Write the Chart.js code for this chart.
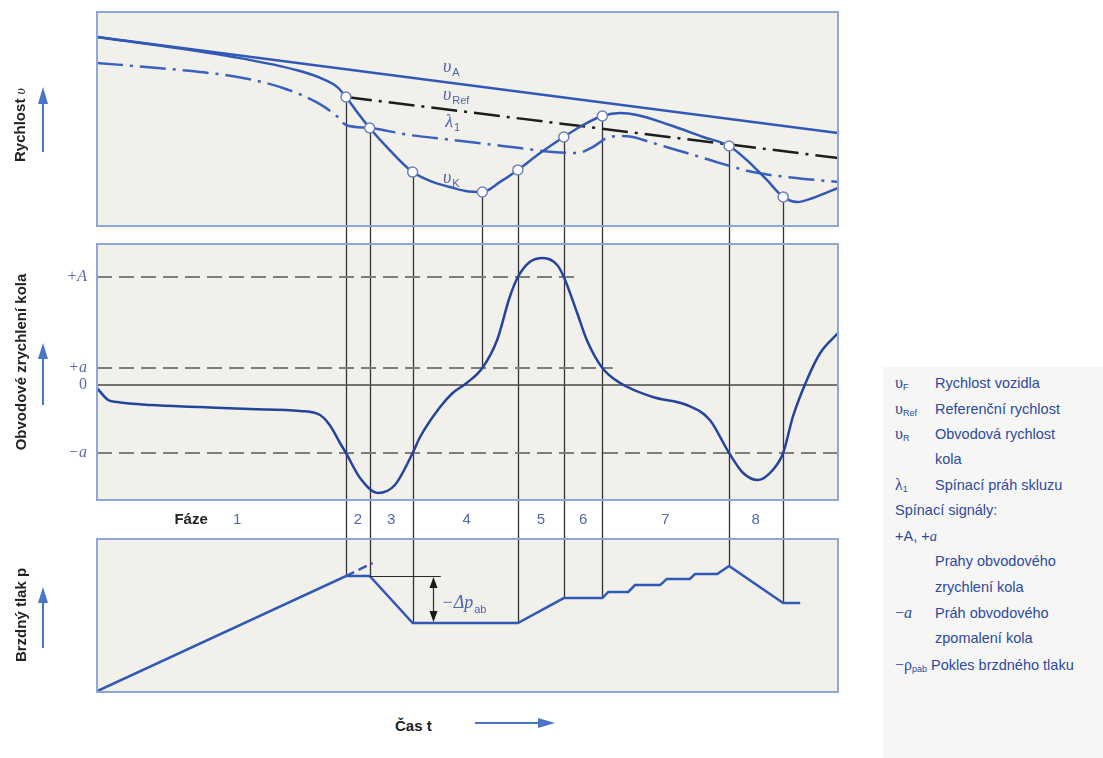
<!DOCTYPE html>
<html>
<head>
<meta charset="utf-8">
<script src="https://cdn.jsdelivr.net/npm/chart.js@4/dist/chart.umd.min.js"></script>
<style>
  html, body { margin: 0; padding: 0; background: #fff; }
  body { width: 1103px; height: 758px; position: relative; overflow: hidden; font-family: "Liberation Sans", Arial, sans-serif; }
  canvas { position: absolute; left: 0; }
  #c1 { top: 10px; }
  #c2 { top: 242px; }
  #c3 { top: 537px; }
  .ytitle { position: absolute; font-weight: bold; font-size: 15px; color: #222; white-space: nowrap; transform: translate(-50%, -50%) rotate(-90deg); }
  .ytitle i { font-family: "Liberation Serif", serif; font-weight: normal; font-size: 14px; }
  #time { position: absolute; left: 395px; top: 717px; font-weight: bold; font-size: 15px; color: #222; }
  #arrows { position: absolute; left: 0; top: 0; }
  #legend { position: absolute; left: 883px; top: 367px; width: 220px; height: 391px; background: #f6f6f4; box-sizing: border-box; padding: 3px 0 0 12px; color: #2d4a9c; font-size: 14.5px; }
  #legend .row { height: 25.6px; line-height: 25.6px; white-space: nowrap; }
  #legend .sym { display: inline-block; width: 40px; font-family: "Liberation Serif", serif; font-size: 16px; }
  #legend .sym sub { font-family: "Liberation Sans", Arial, sans-serif; font-size: 9px; vertical-align: -2px; }
  #legend .sym.wide { width: auto; margin-right: 4px; }
  #legend i { font-family: "Liberation Serif", serif; }
</style>
</head>
<body>
<canvas id="c1" width="860" height="234"></canvas>
<canvas id="c2" width="860" height="297"></canvas>
<canvas id="c3" width="860" height="158"></canvas>

<div class="ytitle" style="left:20px; top:125px;">Rychlost <i>υ</i></div>
<div class="ytitle" style="left:20px; top:362px;">Obvodové zrychlení kola</div>
<div class="ytitle" style="left:20px; top:615px;">Brzdný tlak p</div>
<div id="time">Čas t</div>

<svg id="arrows" width="1103" height="758">
  <g stroke="#4a74c4" stroke-width="2" fill="#4a74c4">
    <line x1="43" y1="152" x2="43" y2="100" />
    <polygon stroke="none" points="43,87 38,104 48,104" />
    <line x1="43" y1="405" x2="43" y2="356" />
    <polygon stroke="none" points="43,343 38,359 48,359" />
    <line x1="43" y1="648" x2="43" y2="600" />
    <polygon stroke="none" points="43,587 38,603 48,603" />
    <line x1="475" y1="723" x2="541" y2="723" />
    <polygon stroke="none" points="555,723 538,718 538,728" />
  </g>
</svg>

<div id="legend">
  <div class="row"><span class="sym">υ<sub>F</sub></span>Rychlost vozidla</div>
  <div class="row"><span class="sym">υ<sub>Ref</sub></span>Referenční rychlost</div>
  <div class="row"><span class="sym">υ<sub>R</sub></span>Obvodová rychlost</div>
  <div class="row"><span class="sym"></span>kola</div>
  <div class="row"><span class="sym">λ<sub>1</sub></span>Spínací práh skluzu</div>
  <div class="row">Spínací signály:</div>
  <div class="row">+A, +<i>a</i></div>
  <div class="row"><span class="sym"></span>Prahy obvodového</div>
  <div class="row"><span class="sym"></span>zrychlení kola</div>
  <div class="row"><span class="sym">−<i>a</i></span>Práh obvodového</div>
  <div class="row"><span class="sym"></span>zpomalení kola</div>
  <div class="row"><span class="sym wide">−ρ<sub>pab</sub></span>Pokles brzdného tlaku</div>
</div>

<script>
// time runs 0..100 across the panels
const cueTimes = [33.6, 36.8, 42.6, 52.0, 56.8, 63.0, 68.2, 85.3, 92.6];
const cueEndsIn = ['p', 'p', 'p', 'a', 'p', 'p', 'p', 'p', 'p'];

const phaseNames = ['1', '2', '3', '4', '5', '6', '7', '8'];
const phaseLabelTimes = [18.9, 35.2, 39.7, 49.9, 59.9, 65.6, 76.7, 88.9];

// speed panel
const vATime = [0, 100];
const vAValues = [88.3, 43.5];
const vRefTime = [33.6, 100];
const vRefValues = [60.3, 31.8];
const lambdaTime = [0, 8.2, 13.9, 19.7, 25.1, 29.8, 32.5, 33.6, 36.8, 42.2, 48.0, 52.6, 57.1, 61.5, 64.8, 66.9, 68.8, 70.6, 72.3, 75.0, 79.6, 84.1, 88.5, 93.1, 100];
const lambdaValues = [76.2, 73.8, 72.0, 69.2, 64.5, 57.5, 50.9, 47.2, 45.8, 42.5, 40.2, 38.3, 36.4, 34.6, 34.1, 36.9, 41.1, 42.1, 41.6, 38.8, 34.1, 29.4, 25.2, 22.9, 20.6];
const vKTime = [0, 18.4, 27.4, 30.8, 32.4, 33.6, 35.2, 36.8, 39.5, 42.6, 45.3, 47.6, 49.7, 52.0, 54.4, 56.8, 59.8, 63.0, 65.6, 68.2, 70.6, 72.9, 77.3, 81.8, 85.3, 87.7, 90.4, 92.6, 94.5, 96.6, 100];
const vKValues = [88.3, 79.0, 72.4, 68.2, 65.0, 60.3, 52.8, 45.8, 35.5, 25.2, 20.6, 18.2, 16.4, 15.9, 20.6, 26.2, 34.1, 41.6, 47.2, 51.4, 52.8, 51.9, 47.2, 41.6, 37.4, 30.8, 21.5, 13.6, 11.2, 13.1, 17.8];
const speedLabelMain = ['υ', 'υ', 'λ', 'υ'];
const speedLabelSub = ['A', 'Ref', '1', 'K'];
const speedLabelTime = [46.7, 46.7, 47.0, 46.7];
const speedLabelValue = [74.3, 61.2, 48.6, 22.4];

// wheel acceleration panel
const accTime = [0, 1.5, 2.7, 7.2, 13.9, 20.6, 27.4, 30.1, 31.4, 32.8, 33.6, 35.5, 37.9, 40.2, 42.6, 43.6, 46.3, 48.0, 49.9, 52.0, 54.0, 55.7, 56.8, 58.4, 60.2, 62.1, 63.0, 64.8, 66.1, 68.2, 70.6, 75.0, 79.6, 82.7, 85.3, 87.2, 89.2, 91.2, 92.6, 93.9, 95.8, 97.6, 100];
const accValues = [-0.3, -1.5, -1.7, -2.0, -2.2, -2.4, -2.6, -3.0, -4.0, -5.8, -6.8, -9.3, -10.8, -10.0, -6.8, -5.2, -2.2, -0.8, 0.2, 1.7, 4.5, 8.8, 10.8, 12.3, 12.7, 12.0, 10.8, 7.2, 4.5, 1.7, 0.2, -1.2, -2.0, -3.5, -6.8, -8.8, -9.5, -8.5, -6.8, -3.2, 0.5, 3.2, 5.2];
const accTickLabels = ['+A', '+a', '0', '−a'];
const accTickValues = [10.8, 1.7, 0, -6.8];
const thresholdEnds = [64.5, 69.6, 100, 100];

// brake pressure panel
const pTime = [0, 33.6, 36.8, 42.6, 56.8, 63.0, 68.2, 69.0, 71.7, 72.6, 76.0, 76.9, 80.0, 80.7, 83.7, 85.3, 92.6, 94.9];
const pValues = [0.5, 75.8, 75.8, 45.1, 45.1, 61.4, 61.4, 65.4, 65.4, 69.9, 69.9, 73.9, 73.9, 77.1, 77.1, 82.4, 58.2, 58.2];
const pExtTime = [33.6, 37.2];
const pExtValues = [75.8, 84.3];
const dropArrowTime = 45.3;
const dropLineEnd = 46.4;

const BLUE = '#3058b4';
const DARK_BLUE = '#24449c';
const LABEL_BLUE = '#4d64ad';
const PANEL_BG = '#f1f0eb';
const PANEL_EDGE = '#8ea7d6';
const CUE_COLOR = '#333333';
const DASH_DOT = [26, 7, 3, 7];

const pts = (ts, vs) => ts.map((t, i) => ({ x: t, y: vs[i] }));

function interp(ts, vs, t) {
  for (let i = 1; i < ts.length; i++) {
    if (t <= ts[i]) {
      const f = (t - ts[i - 1]) / (ts[i] - ts[i - 1]);
      return vs[i - 1] + f * (vs[i] - vs[i - 1]);
    }
  }
  return vs[vs.length - 1];
}

function panelOptions(yMin, yMax, padding, yExtra) {
  return {
    responsive: false,
    animation: false,
    devicePixelRatio: 1,
    layout: { padding, autoPadding: false },
    plugins: { legend: { display: false }, tooltip: { enabled: false } },
    elements: { point: { radius: 0 }, line: { borderCapStyle: 'butt' } },
    scales: {
      x: { type: 'linear', min: 0, max: 100, display: false },
      y: Object.assign({ min: yMin, max: yMax, display: false }, yExtra || {}),
    },
  };
}

function framePlugin(cueSpan, extra) {
  return {
    id: 'frame',
    beforeDraw(chart) {
      const { ctx, chartArea: a } = chart;
      ctx.save();
      ctx.fillStyle = PANEL_BG;
      ctx.fillRect(a.left, a.top, a.width, a.height);
      ctx.restore();
    },
    beforeDatasetsDraw(chart) {
      const { ctx, scales: { x } } = chart;
      ctx.save();
      ctx.strokeStyle = CUE_COLOR;
      ctx.lineWidth = 1.3;
      cueTimes.forEach((t, i) => {
        const span = cueSpan(chart, t, i);
        if (!span) return;
        const px = Math.round(x.getPixelForValue(t)) + 0.5;
        ctx.beginPath();
        ctx.moveTo(px, span[0]);
        ctx.lineTo(px, span[1]);
        ctx.stroke();
      });
      ctx.restore();
    },
    afterDatasetsDraw(chart) {
      if (extra) extra(chart);
    },
    afterDraw(chart) {
      const { ctx, chartArea: a } = chart;
      ctx.save();
      ctx.strokeStyle = PANEL_EDGE;
      ctx.lineWidth = 2;
      ctx.strokeRect(a.left, a.top, a.width, a.height);
      ctx.restore();
    },
  };
}

function drawSymbol(ctx, px, py, main, sub, mainFont, subFont) {
  ctx.textBaseline = 'middle';
  ctx.textAlign = 'left';
  ctx.font = mainFont;
  ctx.fillText(main, px, py);
  const w = ctx.measureText(main).width;
  ctx.font = subFont;
  ctx.fillText(sub, px + w + 1, py + 6);
}

const line = (data, color, width, more) =>
  Object.assign({ data, borderColor: color, borderWidth: width, pointRadius: 0, fill: false }, more || {});

// ---- speed ----
const markerValues = cueTimes.map((t) => interp(vKTime, vKValues, t));
const lambdaSolidIdx = lambdaTime.indexOf(cueTimes[0]);

new Chart(document.getElementById('c1'), {
  type: 'line',
  data: {
    datasets: [
      {
        data: pts(cueTimes, markerValues),
        showLine: false,
        pointRadius: 5,
        pointBackgroundColor: '#ffffff',
        pointBorderColor: '#6f82b6',
        pointBorderWidth: 1.5,
        order: 0,
      },
      line(pts(vKTime, vKValues), BLUE, 2.5, { cubicInterpolationMode: 'monotone', order: 1 }),
      line(pts(vATime, vAValues), BLUE, 2.5, { order: 2 }),
      line(pts(vRefTime, vRefValues), '#1d1d1d', 2.5, { borderDash: DASH_DOT, order: 3 }),
      line(pts(lambdaTime, lambdaValues), '#3a62bd', 2.5, {
        borderDash: DASH_DOT,
        cubicInterpolationMode: 'monotone',
        segment: { borderDash: (c) => (c.p0DataIndex === lambdaSolidIdx ? [] : undefined) },
        order: 4,
      }),
    ],
  },
  options: panelOptions(0, 100, { left: 97, right: 22, top: 2, bottom: 18 }),
  plugins: [
    framePlugin(
      (chart, t, i) => [chart.scales.y.getPixelForValue(markerValues[i]), chart.height],
      (chart) => {
        const { ctx, scales: { x, y } } = chart;
        ctx.save();
        ctx.fillStyle = LABEL_BLUE;
        speedLabelMain.forEach((m, i) => {
          drawSymbol(ctx, x.getPixelForValue(speedLabelTime[i]), y.getPixelForValue(speedLabelValue[i]), m, speedLabelSub[i],
            'italic 18px "Liberation Serif", serif', '11px "Liberation Sans", Arial, sans-serif');
        });
        ctx.restore();
      }
    ),
  ],
});

// ---- wheel acceleration ----
const accOptions = panelOptions(-11.5, 14.1, { left: 0, right: 22, top: 2, bottom: 39 }, {
  display: true,
  afterBuildTicks: (s) => { s.ticks = accTickValues.map((v) => ({ value: v })); },
  afterFit: (s) => {
    s.width = 97;
    s.paddingTop = 0;
    s.paddingBottom = 0;
  },
  grid: { display: false, drawTicks: false },
  border: { display: false },
  ticks: {
    autoSkip: false,
    padding: 10,
    color: '#5a6cae',
    font: (c) => ({ family: '"Liberation Serif", serif', size: 16, style: c.tick && c.tick.value === 0 ? 'normal' : 'italic' }),
    callback: (v) => accTickLabels[accTickValues.indexOf(v)],
  },
});

new Chart(document.getElementById('c2'), {
  type: 'line',
  data: {
    datasets: [
      line(pts(accTime, accValues), DARK_BLUE, 2.5, { cubicInterpolationMode: 'monotone', order: 0 }),
      line(pts([0, 100], [0, 0]), '#4a4a4a', 1.3, { order: 1 }),
      ...accTickValues.map((v, i) => (v === 0 ? null :
        line(pts([0, thresholdEnds[i]], [v, v]), '#7d7d7d', 2, { borderDash: [15, 7], order: 2 }))).filter(Boolean),
    ],
  },
  options: accOptions,
  plugins: [
    framePlugin(
      (chart, t, i) => [0, cueEndsIn[i] === 'a' ? chart.scales.y.getPixelForValue(accTickValues[1]) : chart.height],
      (chart) => {
        const { ctx, chartArea: a, scales: { x } } = chart;
        const py = a.bottom + 20;
        ctx.save();
        ctx.textAlign = 'center';
        ctx.textBaseline = 'middle';
        ctx.fillStyle = '#222';
        ctx.font = 'bold 15px "Liberation Sans", Arial, sans-serif';
        ctx.fillText('Fáze', x.getPixelForValue(12.7), py);
        ctx.fillStyle = '#5068b0';
        ctx.font = '15px "Liberation Sans", Arial, sans-serif';
        phaseNames.forEach((n, i) => ctx.fillText(n, x.getPixelForValue(phaseLabelTimes[i]), py));
        ctx.restore();
      }
    ),
  ],
});

// ---- brake pressure ----
new Chart(document.getElementById('c3'), {
  type: 'line',
  data: {
    datasets: [
      line(pts(pTime, pValues), BLUE, 2.5, { order: 0 }),
      line(pts(pExtTime, pExtValues), BLUE, 2.5, { borderDash: [9, 5], order: 1 }),
    ],
  },
  options: panelOptions(0, 100, { left: 97, right: 22, top: 2, bottom: 3 }),
  plugins: [
    framePlugin(
      (chart, t, i) => (cueEndsIn[i] === 'p' ? [0, chart.scales.y.getPixelForValue(interp(pTime, pValues, t))] : null),
      (chart) => {
        const { ctx, scales: { x, y } } = chart;
        const yTop = y.getPixelForValue(interp(pTime, pValues, cueTimes[1]));
        const yLow = y.getPixelForValue(interp(pTime, pValues, dropArrowTime));
        const ax = Math.round(x.getPixelForValue(dropArrowTime)) + 0.5;
        ctx.save();
        ctx.strokeStyle = '#2a2a2a';
        ctx.fillStyle = '#1a1a1a';
        ctx.lineWidth = 1.2;
        ctx.beginPath();
        ctx.moveTo(x.getPixelForValue(cueTimes[1]), Math.round(yTop) + 0.5);
        ctx.lineTo(x.getPixelForValue(dropLineEnd), Math.round(yTop) + 0.5);
        ctx.moveTo(ax, yTop + 8);
        ctx.lineTo(ax, yLow - 8);
        ctx.stroke();
        ctx.beginPath();
        ctx.moveTo(ax, yTop + 1); ctx.lineTo(ax - 4, yTop + 12); ctx.lineTo(ax + 4, yTop + 12); ctx.closePath();
        ctx.moveTo(ax, yLow - 1); ctx.lineTo(ax - 4, yLow - 12); ctx.lineTo(ax + 4, yLow - 12); ctx.closePath();
        ctx.fill();
        ctx.fillStyle = LABEL_BLUE;
        drawSymbol(ctx, ax + 8, (yTop + yLow) / 2 + 4, '−Δp', 'ab',
          'italic 18px "Liberation Serif", serif', '11px "Liberation Sans", Arial, sans-serif');
        ctx.restore();
      }
    ),
  ],
});
</script>
</body>
</html>
